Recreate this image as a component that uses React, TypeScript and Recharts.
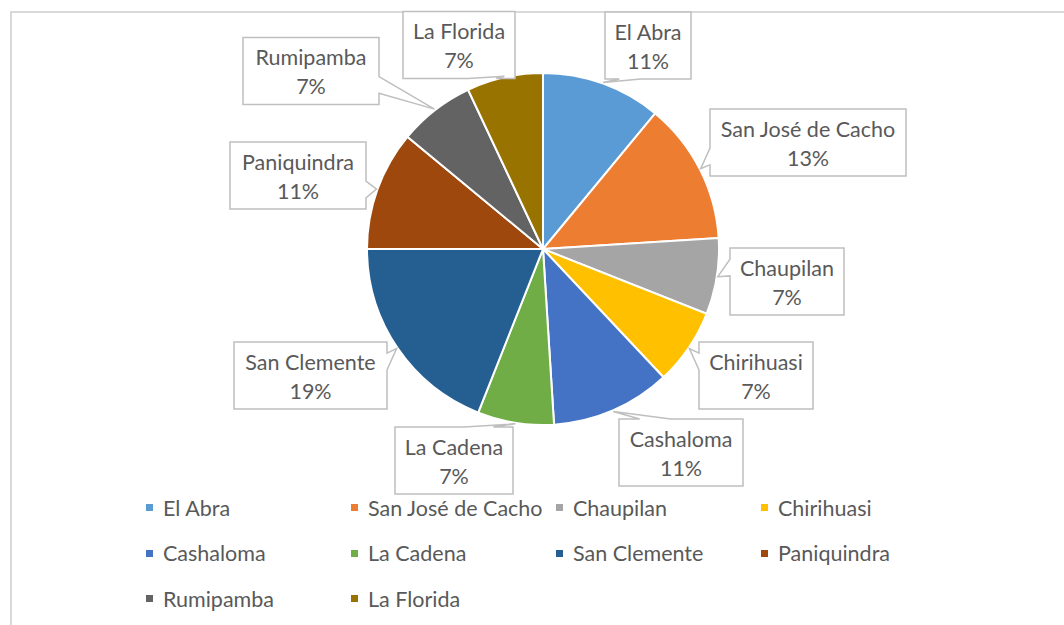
import { Cell, Legend, Pie, PieChart } from "recharts";

const sites = [
  "El Abra",
  "San José de Cacho",
  "Chaupilan",
  "Chirihuasi",
  "Cashaloma",
  "La Cadena",
  "San Clemente",
  "Paniquindra",
  "Rumipamba",
  "La Florida",
];
const shares = [11, 13, 7, 7, 11, 7, 19, 11, 7, 7];
const colors = [
  "#5B9BD5",
  "#ED7D31",
  "#A5A5A5",
  "#FFC000",
  "#4472C4",
  "#70AD47",
  "#255E91",
  "#9E480E",
  "#636363",
  "#997300",
];

// callout box placement relative to the pie centre (layout only)
const calloutLayout = [
  { dx: 105, dy: -203.5, w: 86 },
  { dx: 265, dy: -106.5, w: 196 },
  { dx: 244, dy: 32.5, w: 114 },
  { dx: 213, dy: 126.5, w: 114 },
  { dx: 138, dy: 203.5, w: 124 },
  { dx: -89, dy: 211.5, w: 118 },
  { dx: -232.5, dy: 126.5, w: 153 },
  { dx: -245, dy: -73.5, w: 136 },
  { dx: -232, dy: -178, w: 136 },
  { dx: -84, dy: -204, w: 112 },
];

const data = sites.map((name, i) => ({ name, value: shares[i] }));

const FONT = "Lato, 'Open Sans', sans-serif";
const FONT_SIZE = 21.5;
const TEXT = "#595959";
const RAD = Math.PI / 180;
const BOX_H = 67;

// rectangle callout with a wedge tail, same rules as Office's wedgeRectCallout
function calloutPath(l: number, t: number, w: number, h: number, tx: number, ty: number) {
  const r = l + w;
  const b = t + h;
  const hc = l + w / 2;
  const vc = t + h / 2;
  const dxPos = tx - hc;
  const dyPos = ty - vc;
  const dz = Math.abs(dyPos) - Math.abs((dxPos * h) / w);
  const x1 = l + (w * (dxPos > 0 ? 7 : 2)) / 12;
  const x2 = l + (w * (dxPos > 0 ? 10 : 5)) / 12;
  const y1 = t + (h * (dyPos > 0 ? 7 : 2)) / 12;
  const y2 = t + (h * (dyPos > 0 ? 10 : 5)) / 12;
  const pts: [number, number][] = [[l, t]];
  if (dz > 0 && dyPos < 0) pts.push([x1, t], [tx, ty], [x2, t]);
  pts.push([r, t]);
  if (dz <= 0 && dxPos > 0) pts.push([r, y1], [tx, ty], [r, y2]);
  pts.push([r, b]);
  if (dz > 0 && dyPos > 0) pts.push([x2, b], [tx, ty], [x1, b]);
  pts.push([l, b]);
  if (dz <= 0 && dxPos < 0) pts.push([l, y2], [tx, ty], [l, y1]);
  return "M" + pts.map((p) => `${p[0]},${p[1]}`).join("L") + "Z";
}

function renderCallout(props: any) {
  const { cx, cy, midAngle, outerRadius, index, name, percent } = props;
  const lay = calloutLayout[index];
  const tx = cx + (outerRadius + 1) * Math.cos(-midAngle * RAD);
  const ty = cy + (outerRadius + 1) * Math.sin(-midAngle * RAD);
  const bx = cx + lay.dx;
  const by = cy + lay.dy;
  const l = bx - lay.w / 2;
  const t = by - BOX_H / 2;
  return (
    <g key={`callout-${index}`}>
      <path d={calloutPath(l, t, lay.w, BOX_H, tx, ty)} fill="#fff" stroke="#BFBFBF" strokeWidth={1.5} />
      <text x={bx} y={by - 14} textAnchor="middle" dominantBaseline="central" fill={TEXT} fontSize={FONT_SIZE} fontFamily={FONT}>
        {name}
      </text>
      <text x={bx} y={by + 15} textAnchor="middle" dominantBaseline="central" fill={TEXT} fontSize={FONT_SIZE} fontFamily={FONT}>
        {`${Math.round(percent * 100)}%`}
      </text>
    </g>
  );
}

function LegendGrid({ payload }: any) {
  const items = [...(payload ?? [])].sort((a: any, b: any) => sites.indexOf(a.value) - sites.indexOf(b.value));
  return (
    <div
      style={{
        display: "grid",
        gridTemplateColumns: "205px 205px 205px 205px",
        paddingLeft: 146,
        fontFamily: FONT,
        fontSize: FONT_SIZE,
        color: TEXT,
      }}
    >
      {items.map((entry: any) => (
        <div key={entry.value} style={{ display: "flex", alignItems: "center", height: 45.5, whiteSpace: "nowrap" }}>
          <span style={{ width: 7, height: 7, background: entry.color, marginRight: 10, display: "inline-block" }} />
          <span>{entry.value}</span>
        </div>
      ))}
    </div>
  );
}

export default function App() {
  return (
    <div style={{ position: "fixed", left: 0, top: 0, width: 1064, height: 625, overflow: "hidden", background: "#fff" }}>
      <div
        style={{
          position: "absolute",
          left: 10,
          top: 11,
          width: 1200,
          height: 800,
          border: "2px solid #D9D9D9",
          boxSizing: "border-box",
        }}
      />
      <div style={{ position: "absolute", left: 0, top: 0 }}>
        <PieChart width={1064} height={625} margin={{ top: 0, right: 0, bottom: 0, left: 0 }}>
          <Pie
            data={data}
            dataKey="value"
            nameKey="name"
            cx={543}
            cy={249}
            outerRadius={176}
            startAngle={90}
            endAngle={-270}
            stroke="#fff"
            strokeWidth={2}
            label={renderCallout}
            labelLine={false}
            isAnimationActive={false}
          >
            {data.map((d, i) => (
              <Cell key={d.name} fill={colors[i]} />
            ))}
          </Pie>
          <Legend
            content={<LegendGrid />}
            wrapperStyle={{ position: "absolute", left: 0, top: 485, width: 1064 }}
          />
        </PieChart>
      </div>
    </div>
  );
}
